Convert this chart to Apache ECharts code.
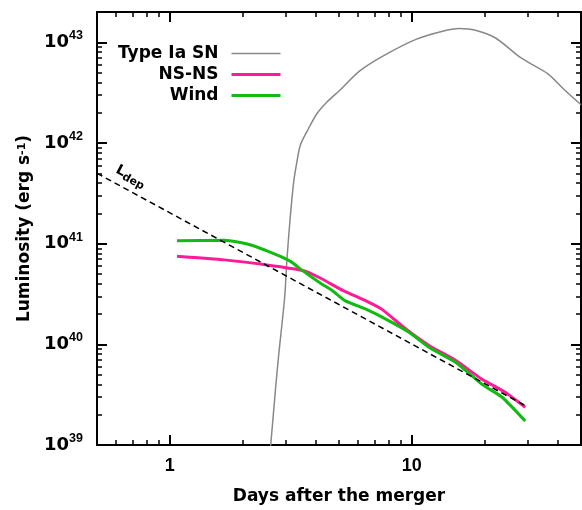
<!DOCTYPE html>
<html><head><meta charset="utf-8">
<script src="https://cdn.jsdelivr.net/npm/echarts@6/dist/echarts.min.js"></script>
<style>html,body{margin:0;padding:0;background:#fff}#c{width:582px;height:510px}</style>
</head><body><div id="c"></div>
<script>
// ---- data (days after merger, luminosity erg/s) ----
const iaDays = [2.57, 2.61, 2.73, 2.81, 2.98, 3.05, 3.15, 3.25, 3.35, 3.46, 3.68, 4.05, 4.45, 5.04, 6.09, 7.59, 10.4, 13.4, 15.7, 18.3, 22.1, 27.6, 31.2, 36.6, 42.9, 50];
const iaLum  = [7.6e38, 1e39, 3.5e39, 7.4e39, 2.9e40, 7.2e40, 1.92e41, 4.14e41, 6.5e41, 9.5e41, 1.29e42, 1.95e42, 2.54e42, 3.34e42, 5.2e42, 7.3e42, 1.07e43, 1.29e43, 1.37e43, 1.32e43, 1.11e43, 7.3e42, 6.07e42, 4.83e42, 3.34e42, 2.4e42];
const nsDays = [1.07, 1.68, 2.45, 3.57, 4.18, 5.2, 6.49, 7.48, 9.47, 11.8, 15.2, 19.5, 24.3, 29.4];
const nsLum  = [7.5e40, 6.9e40, 6.2e40, 5.4e40, 4.56e40, 3.42e40, 2.69e40, 2.25e40, 1.41e40, 9.7e39, 6.9e39, 4.5e39, 3.34e39, 2.37e39];
const windDays = [1.07, 1.68, 2.16, 2.78, 3.15, 3.57, 4.18, 4.73, 5.29, 6.49, 7.84, 9.77, 11.8, 15.2, 19.5, 23.6, 29.4];
const windLum  = [1.07e41, 1.08e41, 9.7e40, 7.7e40, 6.67e40, 5.3e40, 4.07e40, 3.37e40, 2.72e40, 2.22e40, 1.77e40, 1.31e40, 9.3e39, 6.6e39, 4.0e39, 2.98e39, 1.73e39];
const depDays = [0.5, 30];
const depLum  = [5e41, 2.4e39];
const depLabelAt = [0.69, 4.65e41];

// ---- axes / ticks ----
const xMajor = [1, 10];
const xMinor = [0.6, 0.7, 0.8, 0.9, 2, 3, 4, 5, 6, 7, 8, 9, 20, 30, 40];
const yMajor = [1e39, 1e40, 1e41, 1e42, 1e43];
const yMinorMant = [2, 3, 4, 5, 6, 7, 8, 9];
const yMinor = [];
[39, 40, 41, 42].forEach(e => yMinorMant.forEach(m => yMinor.push(Number(m + 'e' + e))));
const xRange = [0.5, 50];
const yRange = [1e39, 2e43];

const legendNames = ['Type Ia SN', 'NS-NS', 'Wind'];
const colors = ['#888888', '#ff1a96', '#11bb11'];
const widths = [1.5, 3, 3];
const zip = (a, b) => a.map((v, i) => [v, b[i]]);

const FONT = '"DejaVu Sans", sans-serif';
const BLK = '#000';

function xAx(pos, major, showLabel) {
  return {
    type: 'log', logBase: 10, position: pos, min: xRange[0], max: xRange[1],
    axisLine: { show: major, onZero: false, lineStyle: { color: BLK, width: 2 } },
    axisTick: { show: true, inside: true, length: major ? 10 : 5, customValues: major ? xMajor : xMinor,
      lineStyle: { color: BLK, width: major ? 2 : 1.5 } },
    axisLabel: showLabel ? { show: true, customValues: xMajor, margin: 12,
      fontFamily: '"Liberation Sans", Arial, sans-serif', fontWeight: 'bold', fontSize: 18, color: BLK,
      formatter: v => String(Math.round(v)) } : { show: false },
    splitLine: { show: false }, minorTick: { show: false }
  };
}
function yAx(pos, major, showLabel) {
  return {
    type: 'log', logBase: 10, position: pos, min: yRange[0], max: yRange[1],
    axisLine: { show: major, onZero: false, lineStyle: { color: BLK, width: 2 } },
    axisTick: { show: true, inside: true, length: major ? 10 : 5, customValues: major ? yMajor : yMinor,
      lineStyle: { color: BLK, width: major ? 2 : 1.5 } },
    axisLabel: showLabel ? { show: true, customValues: yMajor, margin: 14,
      formatter: v => '{b|10}{s|' + Math.round(Math.log10(v)) + '}',
      rich: {
        b: { fontFamily: FONT, fontWeight: 'bold', fontSize: 18, lineHeight: 26, color: BLK },
        s: { fontFamily: '"Liberation Sans", Arial, sans-serif', fontWeight: 'bold', fontSize: 12.5, lineHeight: 14, verticalAlign: 'top', color: BLK }
      } } : { show: false },
    splitLine: { show: false }, minorTick: { show: false }
  };
}

const xAxes = [xAx('bottom', true, true), xAx('bottom', false, false), xAx('top', true, false), xAx('top', false, false)];
Object.assign(xAxes[0], { name: 'Days after the merger', nameLocation: 'middle', nameGap: 43,
  nameTextStyle: { fontFamily: FONT, fontWeight: 'bold', fontSize: 17, color: BLK } });
const yAxes = [yAx('left', true, true), yAx('left', false, false), yAx('right', true, false), yAx('right', false, false)];
Object.assign(yAxes[0], { name: 'Luminosity (erg s{sup|-1})', nameLocation: 'middle', nameGap: 58,
  nameTextStyle: { fontFamily: FONT, fontWeight: 'bold', fontSize: 17, color: BLK,
    rich: { sup: { fontFamily: FONT, fontWeight: 'bold', fontSize: 11, verticalAlign: 'top', color: BLK } } } });

const chart = echarts.init(document.getElementById('c'), null, { renderer: 'canvas' });
chart.setOption({
  animation: false,
  backgroundColor: '#fff',
  grid: { left: 97, right: 1, top: 12, bottom: 62, containLabel: false },
  xAxis: xAxes,
  yAxis: yAxes,
  legend: {
    data: legendNames.map((n, i) => ({ name: n, lineStyle: { width: widths[i], color: colors[i] } })),
    orient: 'vertical', align: 'right', right: 300, top: 45,
    itemWidth: 49, itemHeight: 14, itemGap: 4, padding: 0,
    itemStyle: { opacity: 0 },
    textStyle: { fontFamily: FONT, fontWeight: 'bold', fontSize: 17, lineHeight: 14, color: BLK, padding: [0, 8, 0, 0] }
  },
  series: [
    { name: legendNames[0], type: 'line', data: zip(iaDays, iaLum), symbol: 'none', clip: true, smooth: 0.3,
      lineStyle: { color: colors[0], width: widths[0] }, itemStyle: { color: colors[0] }, z: 2 },
    { name: legendNames[1], type: 'line', data: zip(nsDays, nsLum), symbol: 'none', clip: true, smooth: 0.2,
      lineStyle: { color: colors[1], width: widths[1] }, itemStyle: { color: colors[1] }, z: 3 },
    { name: legendNames[2], type: 'line', data: zip(windDays, windLum), symbol: 'none', clip: true, smooth: 0.2,
      lineStyle: { color: colors[2], width: widths[2] }, itemStyle: { color: colors[2] }, z: 4 },
    { name: 'Ldep', type: 'line', data: zip(depDays, depLum), symbol: 'none', clip: true,
      lineStyle: { color: BLK, width: 1.5, type: [6, 4] }, itemStyle: { color: BLK }, z: 5,
      markPoint: { symbol: 'circle', symbolSize: 0, silent: true,
        data: [{ coord: depLabelAt }],
        label: { show: true, position: 'inside', rotate: -28, formatter: '{L|L}{d|dep}',
          rich: {
            L: { fontFamily: FONT, fontWeight: 'bold', fontSize: 14, color: BLK, lineHeight: 18 },
            d: { fontFamily: FONT, fontWeight: 'bold', fontSize: 11, color: BLK, verticalAlign: 'bottom', lineHeight: 12 }
          } } } }
  ]
});
</script></body></html>
